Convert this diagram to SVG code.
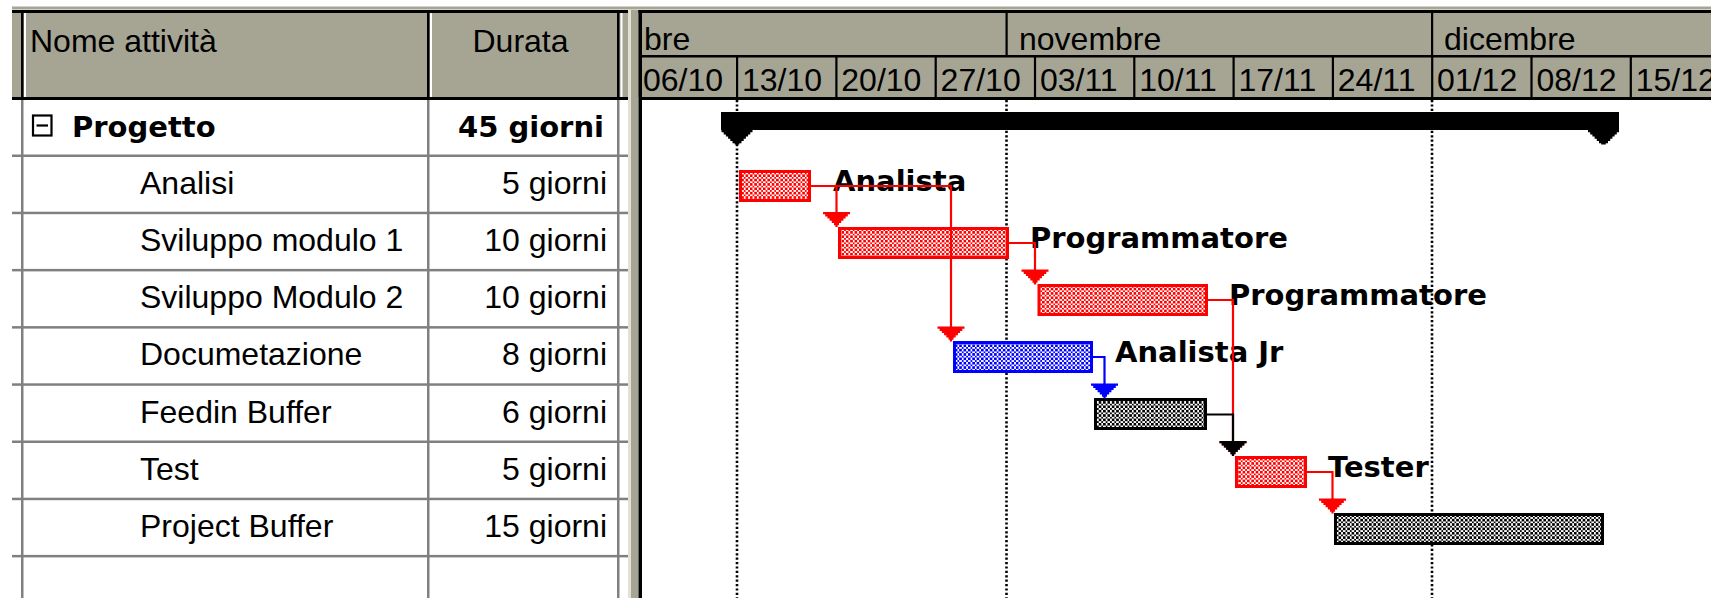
<svg xmlns="http://www.w3.org/2000/svg" xmlns:xlink="http://www.w3.org/1999/xlink" width="1711" height="598" viewBox="0 0 1711 598">
  <style>
    .face { fill:#A6A594; }
    .hi { fill:#FFFFFF; }
    .ink { fill:#000000; }
    .rule { fill:#808080; }
    .t { font-family:"Liberation Sans", Arial, sans-serif; font-size:32px; fill:#000; }
    .tb { font-family:"DejaVu Sans", "Liberation Sans", sans-serif; font-weight:bold; font-size:29px; fill:#000; }
    .end { text-anchor:end; }
    .dot { stroke:#000; stroke-width:2.6; stroke-dasharray:2.2 2.2; fill:none; }
    .bar-red { fill:url(#chkRed); stroke:#FF0000; stroke-width:3; }
    .bar-blue { fill:url(#chkBlue); stroke:#0000FF; stroke-width:3; }
    .bar-black { fill:url(#chkBlack); stroke:#000000; stroke-width:3; }
    .ln { fill:none; stroke-width:2.2; }
    .red { stroke:#FF0000; }
    .blue { stroke:#0000FF; }
    .black { stroke:#000000; }
    .ah-red { fill:#FF0000; }
    .ah-blue { fill:#0000FF; }
    .ah-black { fill:#000000; }
  </style>
  <defs>
    <pattern id="chkRed" width="4.36" height="4.36" patternUnits="userSpaceOnUse">
      <rect width="4.36" height="4.36" fill="#FFFFFF"/>
      <rect width="2.18" height="2.18" fill="#FF0000" shape-rendering="crispEdges"/>
      <rect x="2.18" y="2.18" width="2.18" height="2.18" fill="#FF0000" shape-rendering="crispEdges"/>
    </pattern>
    <pattern id="chkBlue" width="4.36" height="4.36" patternUnits="userSpaceOnUse">
      <rect width="4.36" height="4.36" fill="#FFFFFF"/>
      <rect width="2.18" height="2.18" fill="#0000FF" shape-rendering="crispEdges"/>
      <rect x="2.18" y="2.18" width="2.18" height="2.18" fill="#0000FF" shape-rendering="crispEdges"/>
    </pattern>
    <pattern id="chkBlack" width="4.36" height="4.36" patternUnits="userSpaceOnUse">
      <rect width="4.36" height="4.36" fill="#FFFFFF"/>
      <rect width="2.18" height="2.18" fill="#000000" shape-rendering="crispEdges"/>
      <rect x="2.18" y="2.18" width="2.18" height="2.18" fill="#000000" shape-rendering="crispEdges"/>
    </pattern>
    <!-- stepped down-pointing arrowhead, tip at the origin -->
    <path id="arrowhead" d="M-13.5,-15 H13.5 V-12.8 H11.3 V-10.6 H9.1 V-8.4 H6.9 V-6.2 H4.7 V-4 H2.5 V-1.8 H1.1 V0 H-1.1 V-1.8 H-2.5 V-4 H-4.7 V-6.2 H-6.9 V-8.4 H-9.1 V-10.6 H-11.3 V-12.8 H-13.5 Z"/>
    <!-- summary bar end cap, top centre at the origin -->
    <path id="sumcap" d="M-15.5,0 H15.5 V2.2 H13.3 V4.4 H11.1 V6.6 H8.9 V8.8 H6.7 V11 H4.5 V13.2 H2.3 V14.4 H-2.3 V13.2 H-4.5 V11 H-6.7 V8.8 H-8.9 V6.6 H-11.1 V4.4 H-13.3 V2.2 H-15.5 Z"/>
  </defs>

  <!-- window background -->
  <rect width="1711" height="598" fill="#FFFFFF"/>

  <!-- header band and top rules -->
  <g id="frame">
    <rect class="face" x="12" y="6.5" width="1699" height="3"/>
    <rect class="ink" x="12" y="10" width="1699" height="3"/>
    <rect class="face" x="12" y="13" width="1699" height="84"/>
    <rect class="ink" x="12" y="97" width="616" height="3"/>
    <rect class="ink" x="642" y="97" width="1069" height="3"/>
  </g>

  <!-- task sheet grid -->
  <g id="sheet-grid">
    <rect class="ink" x="21" y="13" width="2.5" height="84"/>
    <rect class="hi" x="24" y="13" width="2" height="84"/>
    <rect class="ink" x="427" y="13" width="2.5" height="84"/>
    <rect class="hi" x="430" y="13" width="2" height="84"/>
    <rect class="ink" x="617" y="13" width="2.5" height="84"/>
    <rect class="hi" x="620.5" y="13" width="2" height="84"/>
    <rect class="rule" x="21" y="100" width="2.5" height="498"/>
    <rect class="rule" x="427" y="100" width="2.5" height="498"/>
    <rect class="rule" x="617" y="100" width="2.5" height="498"/>
    <rect class="rule" x="12" y="154.5" width="616" height="2.5"/>
    <rect class="rule" x="12" y="211.7" width="616" height="2.5"/>
    <rect class="rule" x="12" y="268.9" width="616" height="2.5"/>
    <rect class="rule" x="12" y="326.1" width="616" height="2.5"/>
    <rect class="rule" x="12" y="383.3" width="616" height="2.5"/>
    <rect class="rule" x="12" y="440.5" width="616" height="2.5"/>
    <rect class="rule" x="12" y="497.7" width="616" height="2.5"/>
    <rect class="rule" x="12" y="554.9" width="616" height="2.5"/>
    <text class="t" x="30" y="51.5">Nome attività</text>
    <text class="t" x="520.5" y="51.5" text-anchor="middle">Durata</text>
  </g>

  <!-- splitter between sheet and chart -->
  <g id="splitter">
    <rect x="628" y="10" width="3" height="588" fill="#E2E1D6"/>
    <rect class="face" x="631" y="10" width="7.5" height="588"/>
    <rect class="ink" x="638.5" y="10" width="3.5" height="588"/>
  </g>

  <!-- timescale: months and weeks -->
  <g id="timescale">
    <rect class="ink" x="642" y="55" width="1069" height="2.5"/>
    <rect class="ink" x="1005.5" y="13" width="2.2" height="42"/>
    <rect class="ink" x="1431" y="13" width="2.2" height="42"/>
    <text class="t" x="644" y="50">bre</text>
    <text class="t" x="1019" y="50">novembre</text>
    <text class="t" x="1444" y="50">dicembre</text>
    <rect class="ink" x="736" y="57" width="2.2" height="40"/>
    <rect class="ink" x="835.3" y="57" width="2.2" height="40"/>
    <rect class="ink" x="934.6" y="57" width="2.2" height="40"/>
    <rect class="ink" x="1033.9" y="57" width="2.2" height="40"/>
    <rect class="ink" x="1133.2" y="57" width="2.2" height="40"/>
    <rect class="ink" x="1232.5" y="57" width="2.2" height="40"/>
    <rect class="ink" x="1331.8" y="57" width="2.2" height="40"/>
    <rect class="ink" x="1431.1" y="57" width="2.2" height="40"/>
    <rect class="ink" x="1530.4" y="57" width="2.2" height="40"/>
    <rect class="ink" x="1629.7" y="57" width="2.2" height="40"/>
    <text class="t" x="643" y="90.5">06/10</text>
    <text class="t" x="742" y="90.5">13/10</text>
    <text class="t" x="841.3" y="90.5">20/10</text>
    <text class="t" x="940.6" y="90.5">27/10</text>
    <text class="t" x="1039.9" y="90.5">03/11</text>
    <text class="t" x="1139.2" y="90.5">10/11</text>
    <text class="t" x="1238.5" y="90.5">17/11</text>
    <text class="t" x="1337.8" y="90.5">24/11</text>
    <text class="t" x="1437.1" y="90.5">01/12</text>
    <text class="t" x="1536.4" y="90.5">08/12</text>
    <text class="t" x="1635.7" y="90.5">15/12</text>
  </g>

  <!-- dotted vertical gridlines: project start, month starts -->
  <g id="gridlines">
    <line class="dot" x1="737" y1="100" x2="737" y2="598"/>
    <line class="dot" x1="1006.5" y1="100" x2="1006.5" y2="598"/>
    <line class="dot" x1="1432" y1="100" x2="1432" y2="598"/>
  </g>

  <!-- tasks -->
  <g id="task-progetto">
    <rect x="33" y="115.5" width="18.5" height="20" fill="#FFFFFF" stroke="#000" stroke-width="2.2"/>
    <rect class="ink" x="36.5" y="124.4" width="11.5" height="2.2"/>
    <text class="tb" x="72" y="136.5">Progetto</text>
    <text class="tb end" x="604" y="136.5">45 giorni</text>
    <rect class="ink" x="721" y="112" width="898" height="18"/>
    <use xlink:href="#sumcap" class="ink" x="737" y="130"/>
    <use xlink:href="#sumcap" class="ink" x="1603.5" y="130"/>
  </g>

  <g id="task-analisi">
    <text class="t" x="140" y="193.7">Analisi</text>
    <text class="t end" x="607" y="193.7">5 giorni</text>
    <rect class="bar-red" x="740.5" y="171.5" width="69" height="29"/>
    <text class="tb" x="833" y="190.5">Analista</text>
  </g>

  <g id="task-sviluppo-1">
    <text class="t" x="140" y="250.9">Sviluppo modulo 1</text>
    <text class="t end" x="607" y="250.9">10 giorni</text>
    <rect class="bar-red" x="839.5" y="228.5" width="168" height="29"/>
    <text class="tb" x="1030" y="247.5">Programmatore</text>
  </g>

  <g id="task-sviluppo-2">
    <text class="t" x="140" y="308.1">Sviluppo Modulo 2</text>
    <text class="t end" x="607" y="308.1">10 giorni</text>
    <rect class="bar-red" x="1039" y="285.5" width="167.5" height="29"/>
    <text class="tb" x="1229" y="304.7">Programmatore</text>
  </g>

  <g id="task-documetazione">
    <text class="t" x="140" y="365.3">Documetazione</text>
    <text class="t end" x="607" y="365.3">8 giorni</text>
    <rect class="bar-blue" x="954.5" y="342.5" width="137" height="29"/>
    <text class="tb" x="1115" y="361.9">Analista Jr</text>
  </g>

  <g id="task-feedin-buffer">
    <text class="t" x="140" y="422.5">Feedin Buffer</text>
    <text class="t end" x="607" y="422.5">6 giorni</text>
    <rect class="bar-black" x="1095.5" y="399.5" width="110" height="29"/>
  </g>

  <g id="task-test">
    <text class="t" x="140" y="479.7">Test</text>
    <text class="t end" x="607" y="479.7">5 giorni</text>
    <rect class="bar-red" x="1236.5" y="457.5" width="69" height="29"/>
    <text class="tb" x="1328" y="476.7">Tester</text>
  </g>

  <g id="task-project-buffer">
    <text class="t" x="140" y="536.9">Project Buffer</text>
    <text class="t end" x="607" y="536.9">15 giorni</text>
    <rect class="bar-black" x="1335.5" y="514.5" width="267" height="29"/>
  </g>

  <!-- finish-to-start links -->
  <g id="connectors">
    <path class="ln red" d="M811,186 H836.5 V213"/>
    <use xlink:href="#arrowhead" class="ah-red" x="836.5" y="227"/>
    <path class="ln red" d="M811,186 H951 V327"/>
    <use xlink:href="#arrowhead" class="ah-red" x="951" y="341.5"/>
    <path class="ln red" d="M1009,243 H1035 V270"/>
    <use xlink:href="#arrowhead" class="ah-red" x="1035" y="284.5"/>
    <path class="ln blue" d="M1093,357 H1104.5 V384"/>
    <use xlink:href="#arrowhead" class="ah-blue" x="1104.5" y="398.5"/>
    <path class="ln red" d="M1208,300 H1233 V441"/>
    <use xlink:href="#arrowhead" class="ah-red" x="1233" y="456"/>
    <path class="ln black" d="M1207,414.5 H1233 V441"/>
    <use xlink:href="#arrowhead" class="ah-black" x="1233" y="456"/>
    <path class="ln red" d="M1307,472 H1332.5 V499"/>
    <use xlink:href="#arrowhead" class="ah-red" x="1332.5" y="513.5"/>
  </g>
</svg>
